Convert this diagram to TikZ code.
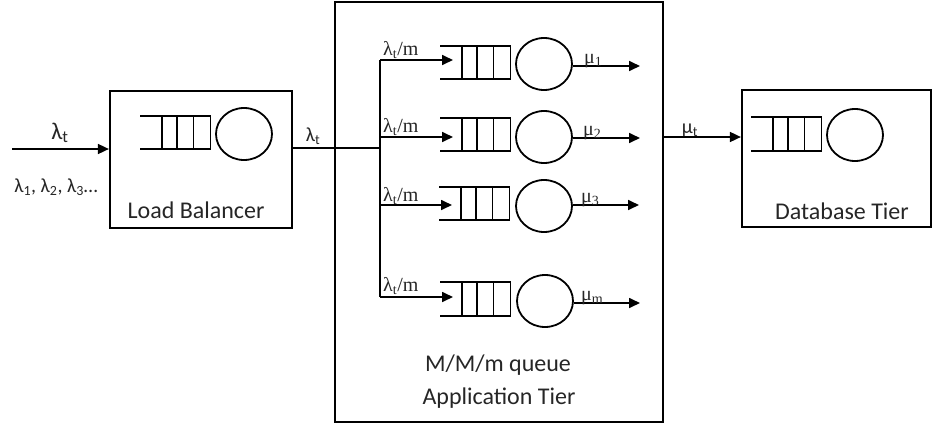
\documentclass[tikz,border=0pt]{standalone}
\usepackage{fontspec}
\setmainfont{Carlito}
\newfontfamily\tms{Liberation Serif}
\usetikzlibrary{arrows.meta,calc,shapes.geometric}
\newcommand\queuebox[3]{%
  \node[qnode, anchor=west] (#1) at (#2,#3) {};
  \draw[qline] (#1.north west) -- (#1.north east) -- (#1.south east) -- (#1.south west);
  \foreach \f in {0.31,0.53,0.76}
    \draw[qline] ($(#1.north west)!\f!(#1.north east)$) -- ($(#1.south west)!\f!(#1.south east)$);
}
\begin{document}
\begin{tikzpicture}[x=1pt,y=-1pt,
  tier/.style={draw, line width=2.2pt, rectangle, inner sep=0pt},
  ln/.style={line width=1.7pt},
  arr/.style={ln,-{Triangle[length=11pt,width=10pt]}},
  qline/.style={line width=1.8pt},
  qnode/.style={rectangle, minimum width=70pt, minimum height=33pt, inner sep=0pt},
  srv/.style={draw, ellipse, line width=1.8pt, minimum width=56pt, minimum height=52pt, inner sep=0pt},
  big/.style={font=\fontsize{24}{28}\selectfont, text=black!85, inner sep=0pt},
  mid/.style={font=\fontsize{20}{24}\selectfont, text=black!85, inner sep=0pt},
  rate/.style={font=\tms\fontsize{20}{24}\selectfont, text=black!85, inner sep=0pt},
]
\useasboundingbox (0,0) rectangle (932,426);

% tier boxes
\node[tier, minimum width=182pt, minimum height=137pt] (lb) at (201,159.5) {};
\node[tier, minimum width=328pt, minimum height=420pt] (app) at (499,212) {};
\node[tier, minimum width=189pt, minimum height=137pt] (db) at (836.5,158.5) {};

% load balancer queue + server
\queuebox{lq}{140}{132.5}
\node[srv] (ls) at (244,134) {};
% database queue + server
\queuebox{dq}{751}{134}
\node[srv] (ds) at (855,135) {};

% application tier queues + servers
\queuebox{q1}{440}{62.5}
\queuebox{q2}{440}{134.5}
\queuebox{q3}{439}{203.5}
\queuebox{q4}{440}{299}
\node[srv] (s1) at (544,64) {};
\node[srv] (s2) at (544,137) {};
\node[srv] (s3) at (544,206) {};
\node[srv] (s4) at (545,301) {};

% coordinates
\coordinate (in) at (12,149);
\coordinate (br) at (380,148);
\coordinate (b1) at (380,60);
\coordinate (b2) at (380,137);
\coordinate (b3) at (380,205);
\coordinate (b4) at (380,297);
\coordinate (o1) at (640,66);
\coordinate (o2) at (640,138);
\coordinate (o3) at (639,205);
\coordinate (o4) at (640,303);
\coordinate (mu) at (700,137);

% connectors
\draw[arr] (in) -- (in -| lb.west);
\draw[ln] (br -| lb.east) -- (br);
\draw[ln] (b1) -- (b4);
\draw[arr] (b1) -- ($(b1 -| q1.west)+(13,0)$);
\draw[arr] (b2) -- ($(b2 -| q2.west)+(13,0)$);
\draw[arr] (b3) -- ($(b3 -| q3.west)+(13,0)$);
\draw[arr] (b4) -- ($(b4 -| q4.west)+(13,0)$);
\draw[arr] (o1 -| s1.east) -- (o1);
\draw[arr] (o2 -| s2.east) -- (o2);
\draw[arr] (o3 -| s3.east) -- (o3);
\draw[arr] (o4 -| s4.east) -- (o4);
\draw[arr] (mu -| app.east) -- (mu -| db.west);

% labels
\node[big, font=\fontsize{24}{28}\selectfont] (lin) at (60,133) {λ\textsubscript{t}};
\node[mid] (lall) at (56,187) {λ\textsubscript{1}, λ\textsubscript{2}, λ\textsubscript{3}\textellipsis};
\node[mid] (lmid) at (313,136) {λ\textsubscript{t}};
\node[mid] (mut) at (690,130) {μ\textsubscript{t}};
\node[big] (lbl) at (196,210) {Load Balancer};
\node[big] (appl1) at (498,365) {M/M/m queue};
\node[big] (appl2) at (499,398) {Application Tier};
\node[big] (dbl) at (842,211) {Database Tier};

\node[rate, anchor=base west] (r1) at (383,55) {λ\textsubscript{t}/m};
\node[rate, anchor=base west] (r2) at (383,132) {λ\textsubscript{t}/m};
\node[rate, anchor=base west] (r3) at (383,201) {λ\textsubscript{t}/m};
\node[rate, anchor=base west] (r4) at (383,291) {λ\textsubscript{t}/m};
\node[rate, anchor=base west] (m1) at (584,63) {μ\textsubscript{1}};
\node[rate, anchor=base west] (m2) at (583,135) {μ\textsubscript{2}};
\node[rate, anchor=base west] (m3) at (581,202) {μ\textsubscript{3}};
\node[rate, anchor=base west] (m4) at (581,300) {μ\textsubscript{m}};
\end{tikzpicture}
\end{document}
